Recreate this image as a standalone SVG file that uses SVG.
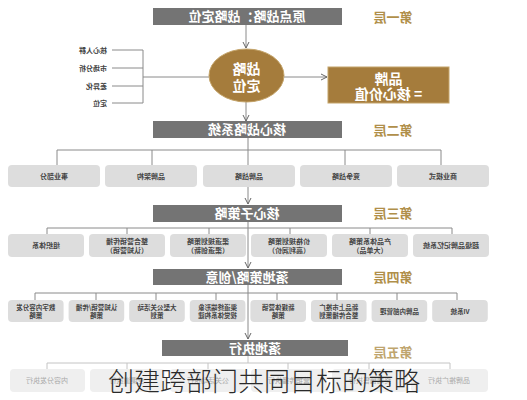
<svg xmlns="http://www.w3.org/2000/svg" width="527" height="400" viewBox="0 0 527 400">
<style>
.bar{fill:#747474}
.bt{font-family:"Noto Sans CJK SC","Noto Sans",sans-serif;font-size:13px;font-weight:bold;fill:#fff;text-anchor:middle}
.lay{font-family:"Noto Sans CJK SC","Noto Sans",sans-serif;font-size:13px;font-weight:bold;fill:#b08f4a;text-anchor:middle}
.box{fill:#dddddd}
.fbox{fill:#efefef}
.bx{font-family:"Noto Sans CJK SC","Noto Sans",sans-serif;font-size:7px;font-weight:bold;fill:#444;text-anchor:middle}
.sx{font-family:"Noto Sans CJK SC","Noto Sans",sans-serif;font-size:6.5px;font-weight:bold;fill:#444;text-anchor:middle}
.fx{font-family:"Noto Sans CJK SC","Noto Sans",sans-serif;font-size:7px;fill:#aaa;text-anchor:middle}
.lab{font-family:"Noto Sans CJK SC","Noto Sans",sans-serif;font-size:7px;font-weight:bold;fill:#444;text-anchor:start}
.ln{stroke:#8a8a8a;stroke-width:1;fill:none}
.fl{stroke:#c4c4c4;stroke-width:1;fill:none}
.gold{fill:#a57c3c;stroke:#c4a46a;stroke-width:1}
.gt{font-family:"Noto Sans CJK SC","Noto Sans",sans-serif;font-size:14px;font-weight:bold;fill:#fff;text-anchor:middle}
</style>
<defs>
<marker id="ah" viewBox="0 0 8 8" refX="7" refY="4" markerWidth="8" markerHeight="8" markerUnits="userSpaceOnUse" orient="auto">
<path d="M1,1 L7,4 L1,7" fill="none" stroke="#666" stroke-width="1"/>
</marker>
</defs>
<rect width="527" height="400" fill="#fff"/>

<g id="connectors">
<line class="ln" x1="246" y1="25" x2="246" y2="48" marker-end="url(#ah)"/>
<line class="ln" x1="112" y1="50" x2="143" y2="50"/>
<line class="ln" x1="112" y1="68" x2="143" y2="68"/>
<line class="ln" x1="112" y1="86" x2="143" y2="86"/>
<line class="ln" x1="112" y1="103" x2="143" y2="103"/>
<line class="ln" x1="143" y1="50" x2="143" y2="103"/>
<line class="ln" x1="143" y1="77" x2="209" y2="77"/>
<line class="ln" x1="284" y1="77" x2="327" y2="77" marker-end="url(#ah)"/>
<line class="ln" x1="246" y1="102" x2="246" y2="121" marker-end="url(#ah)"/>
<path class="ln" d="M57,165 V150 H441 V165 M152,150 V165 M345,150 V165 M248,138 V165"/>
<line class="ln" x1="248" y1="187" x2="248" y2="204" marker-end="url(#ah)"/>
<path class="ln" d="M47,234 V228 H452 V234 M127,228 V234 M209,228 V234 M290,228 V234 M370,228 V234 M248,221 V228"/>
<line class="ln" x1="248" y1="228" x2="248" y2="268" marker-end="url(#ah)"/>
<path class="ln" d="M35,300 V293 H457 V300 M96,293 V300 M156,293 V300 M216,293 V300 M277,293 V300 M337,293 V300 M397,293 V300 M248,285 V293"/>
<line class="ln" x1="248" y1="293" x2="248" y2="339" marker-end="url(#ah)"/>
<path class="fl" d="M47,369 V363 H450 V369 M127,363 V369 M208,363 V369 M288,363 V369 M369,363 V369 M248,356 V363"/>
</g>

<g id="bar1"><rect class="bar" x="153" y="8" width="189" height="17"/><text class="bt" x="-247" y="21" transform="scale(-1,1)">原点战略：战略定位</text></g>
<g id="layer1"><text class="lay" x="-393" y="22" transform="scale(-1,1)">第一层</text></g>
<g id="labels">
<text class="lab" x="-107" y="53" transform="scale(-1,1)">核心人群</text>
<text class="lab" x="-107" y="71" transform="scale(-1,1)">市场分析</text>
<text class="lab" x="-107" y="89" transform="scale(-1,1)">差异化</text>
<text class="lab" x="-107" y="106" transform="scale(-1,1)">定位</text>
</g>
<g id="core"><ellipse class="gold" cx="246.5" cy="75.5" rx="37.5" ry="26.5"/>
<text class="gt" x="-246.5" y="74" transform="scale(-1,1)">战略</text>
<text class="gt" x="-246.5" y="91" transform="scale(-1,1)">定位</text></g>
<g id="brand"><rect class="gold" x="328" y="67" width="121" height="36"/>
<text class="gt" x="-388.5" y="84" transform="scale(-1,1)">品牌</text>
<text class="gt" x="-388.5" y="99" transform="scale(-1,1)">= 核心价值</text></g>

<g id="bar2"><rect class="bar" x="153" y="121" width="189" height="17"/><text class="bt" x="-247" y="134" transform="scale(-1,1)">核心战略系统</text></g>
<g id="layer2"><text class="lay" x="-393" y="135" transform="scale(-1,1)">第二层</text></g>
<g id="row2">
<rect class="box" x="8" y="165" width="92" height="22" rx="4"/><text class="bx" x="-54" y="179" transform="scale(-1,1)">事业部分</text>
<rect class="box" x="105" y="165" width="92" height="22" rx="4"/><text class="bx" x="-151" y="179" transform="scale(-1,1)">品牌架构</text>
<rect class="box" x="203" y="165" width="92" height="22" rx="4"/><text class="bx" x="-249" y="179" transform="scale(-1,1)">品牌战略</text>
<rect class="box" x="300" y="165" width="92" height="22" rx="4"/><text class="bx" x="-346" y="179" transform="scale(-1,1)">竞争战略</text>
<rect class="box" x="397" y="165" width="92" height="22" rx="4"/><text class="bx" x="-443" y="179" transform="scale(-1,1)">商业模式</text>
</g>

<g id="bar3"><rect class="bar" x="153" y="205" width="189" height="17"/><text class="bt" x="-247" y="218" transform="scale(-1,1)">核心子策略</text></g>
<g id="layer3"><text class="lay" x="-393" y="218" transform="scale(-1,1)">第三层</text></g>
<g id="row3">
<rect class="box" x="8" y="234" width="76" height="23" rx="4"/><text class="bx" x="-46" y="248" transform="scale(-1,1)">组织体系</text>
<rect class="box" x="89" y="234" width="76" height="23" rx="4"/><text class="bx" x="-127" y="244" transform="scale(-1,1)">整合营销传播</text><text class="bx" x="-127" y="253" transform="scale(-1,1)">（认知营销）</text>
<rect class="box" x="170" y="234" width="76" height="23" rx="4"/><text class="bx" x="-208" y="244" transform="scale(-1,1)">渠道规划策略</text><text class="bx" x="-208" y="253" transform="scale(-1,1)">（渠道创新）</text>
<rect class="box" x="251" y="234" width="76" height="23" rx="4"/><text class="bx" x="-289" y="244" transform="scale(-1,1)">价格规划策略</text><text class="bx" x="-289" y="253" transform="scale(-1,1)">（高利润价）</text>
<rect class="box" x="332" y="234" width="76" height="23" rx="4"/><text class="bx" x="-370" y="244" transform="scale(-1,1)">产品体系策略</text><text class="bx" x="-370" y="253" transform="scale(-1,1)">（大单品）</text>
<rect class="box" x="413" y="234" width="76" height="23" rx="4"/><text class="bx" x="-451" y="248" transform="scale(-1,1)">超级品牌记忆系统</text>
</g>

<g id="bar4"><rect class="bar" x="153" y="269" width="189" height="16"/><text class="bt" x="-247" y="282" transform="scale(-1,1)">落地策略/创意</text></g>
<g id="layer4"><text class="lay" x="-393" y="282" transform="scale(-1,1)">第四层</text></g>
<g id="row4">
<rect class="box" x="8" y="300" width="55.6" height="22" rx="4"/><text class="sx" x="-35.8" y="309.5" transform="scale(-1,1)">数字内容分发</text><text class="sx" x="-35.8" y="318" transform="scale(-1,1)">策略</text>
<rect class="box" x="68.6" y="300" width="55.6" height="22" rx="4"/><text class="sx" x="-96.4" y="309.5" transform="scale(-1,1)">认知营销/传播</text><text class="sx" x="-96.4" y="318" transform="scale(-1,1)">策略</text>
<rect class="box" x="129.2" y="300" width="55.6" height="22" rx="4"/><text class="sx" x="-157" y="309.5" transform="scale(-1,1)">大型公关活动</text><text class="sx" x="-157" y="318" transform="scale(-1,1)">策划</text>
<rect class="box" x="189.8" y="300" width="55.6" height="22" rx="4"/><text class="sx" x="-217.6" y="309.5" transform="scale(-1,1)">渠道终端形象</text><text class="sx" x="-217.6" y="318" transform="scale(-1,1)">视觉体系构建</text>
<rect class="box" x="250.4" y="300" width="55.6" height="22" rx="4"/><text class="sx" x="-278.2" y="309.5" transform="scale(-1,1)">新媒体营销</text><text class="sx" x="-278.2" y="318" transform="scale(-1,1)">策略</text>
<rect class="box" x="311" y="300" width="55.6" height="22" rx="4"/><text class="sx" x="-338.8" y="309.5" transform="scale(-1,1)">新品上市推广</text><text class="sx" x="-338.8" y="318" transform="scale(-1,1)">整合传播策划</text>
<rect class="box" x="371.6" y="300" width="55.6" height="22" rx="4"/><text class="sx" x="-399.4" y="313.5" transform="scale(-1,1)">品牌内部管理</text>
<rect class="box" x="432.2" y="300" width="55.6" height="22" rx="4"/><text class="sx" x="-460" y="313.5" transform="scale(-1,1)">VI系统</text>
</g>

<g id="bar5"><rect class="bar" x="162" y="340" width="186" height="16"/><text class="bt" x="-255" y="353" transform="scale(-1,1)">落地执行</text></g>
<g id="layer5"><text class="lay" x="-393" y="357" transform="scale(-1,1)" opacity="0.8">第五层</text></g>
<g id="row5">
<rect class="fbox" x="10" y="369" width="75" height="23" rx="4"/><text class="fx" x="-47" y="383" transform="scale(-1,1)">内容分发执行</text>
<rect class="fbox" x="90" y="369" width="75" height="23" rx="4"/><text class="fx" x="-127" y="383" transform="scale(-1,1)">全渠道执行</text>
<rect class="fbox" x="170" y="369" width="76" height="23" rx="4"/><text class="fx" x="-208" y="383" transform="scale(-1,1)">公关活动执行</text>
<rect class="fbox" x="251" y="369" width="76" height="23" rx="4"/><text class="fx" x="-289" y="383" transform="scale(-1,1)">营销传播执行</text>
<rect class="fbox" x="332" y="369" width="76" height="23" rx="4"/><text class="fx" x="-370" y="383" transform="scale(-1,1)">终端销售执行</text>
<rect class="fbox" x="411" y="369" width="77" height="23" rx="4"/><text class="fx" x="-449" y="383" transform="scale(-1,1)">品牌推广执行</text>
</g>

<g id="caption"><text x="108" y="391" font-family="'Noto Sans CJK SC',sans-serif" font-size="26" font-weight="300" fill="#2a2a2a">创建跨部门共同目标的策略</text></g>
</svg>
